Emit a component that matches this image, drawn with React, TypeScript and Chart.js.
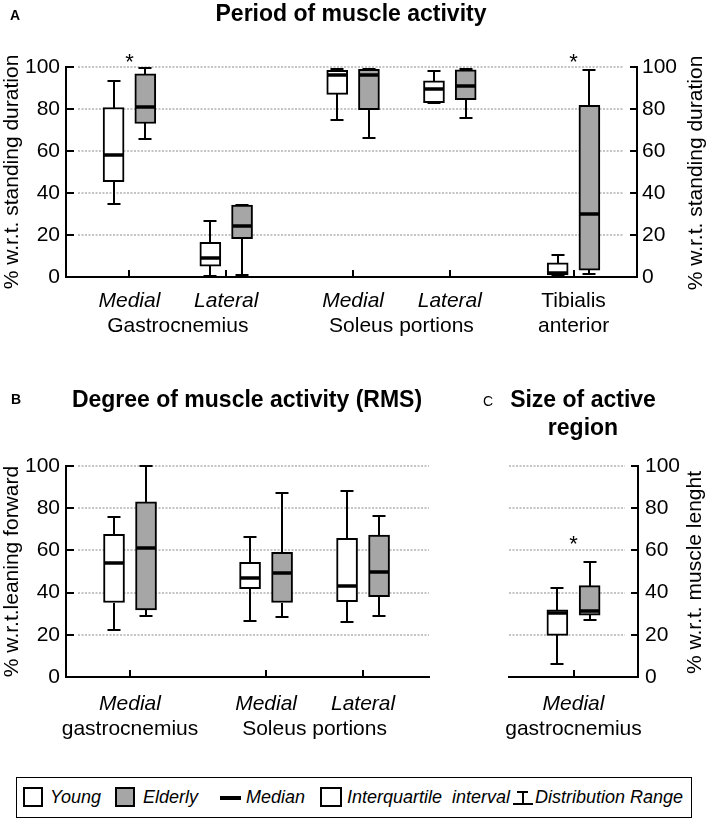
import React, { useEffect, useRef } from 'react';
import { Chart, registerables } from 'chart.js';

Chart.register(...registerables);

const FONT = '"Liberation Sans", Arial, Helvetica, sans-serif';
const GRAY = '#a6a6a6';

// ---------- DATA ----------
// Panel A: Period of muscle activity (% w.r.t. standing duration)
const labelsA = ['Medial', 'Lateral', 'Medial', 'Lateral', 'Tibialis'];
const italicA = [true, true, true, true, false];
const groupsA = ['Gastrocnemius', 'Soleus portions', 'anterior'];
const youngMinA = [34.7, 0.3, 74.7, 83.0, 0.3];
const youngQ1A = [45.4, 5.1, 87.0, 83.0, 1.0];
const youngMedA = [58.1, 9.0, 96.0, 89.7, 2.0];
const youngQ3A = [80.7, 16.5, 98.4, 93.4, 6.8];
const youngMaxA = [93.2, 26.9, 99.2, 98.1, 10.3];
const elderMinA = [65.8, 1.1, 66.3, 75.5, 1.6];
const elderQ1A = [73.1, 18.2, 79.7, 84.5, 3.3];
const elderMedA = [81.0, 24.1, 96.0, 90.8, 29.9];
const elderQ3A = [96.8, 34.2, 98.9, 98.7, 81.8];
const elderMaxA = [99.5, 34.2, 99.2, 98.9, 98.4];
const starsA = [0, 4];

// Panel B: Degree of muscle activity (RMS) (% w.r.t. leaning forward)
const labelsB = ['Medial', 'Medial', 'Lateral'];
const italicB = [true, true, true];
const groupsB = ['gastrocnemius', 'Soleus portions'];
const youngMinB = [22.4, 26.7, 26.3];
const youngQ1B = [35.3, 41.9, 35.7];
const youngMedB = [53.9, 46.8, 43.3];
const youngQ3B = [67.6, 54.3, 65.7];
const youngMaxB = [75.6, 66.2, 88.2];
const elderMinB = [29.0, 28.4, 29.1];
const elderQ1B = [31.8, 35.3, 38.1];
const elderMedB = [61.0, 49.4, 49.9];
const elderQ3B = [83.0, 59.1, 67.3];
const elderMaxB = [100, 87.4, 76.4];
const starsB: number[] = [];

// Panel C: Size of active region (% w.r.t. muscle lenght)
const labelsC = ['Medial'];
const italicC = [true];
const groupsC = ['gastrocnemius'];
const youngMinC = [6.1];
const youngQ1C = [19.7];
const youngMedC = [30.2];
const youngQ3C = [31.8];
const youngMaxC = [42.3];
const elderMinC = [27.1];
const elderQ1C = [29.3];
const elderMedC = [31.5];
const elderQ3C = [43.3];
const elderMaxC = [54.6];
const starsC = [0];

const Y_MIN = 0;
const Y_MAX = 100;
const Y_STEP = 20;

// ---------- LAYOUT ----------
type Series = { min: number[]; q1: number[]; med: number[]; q3: number[]; max: number[] };

interface Spec {
  canvas: { left: number; top: number; width: number; height: number };
  area: { left: number; right: number; top: number; bottom: number };
  xMax: number;
  catPos: number[];
  offset: number;
  young: Series;
  elder: Series;
  labels: string[];
  italic: boolean[];
  groups: string[];
  groupSpans: number[][];
  stars: number[];
  starValue: number;
  leftAxis: boolean;
  rightAxis: boolean;
  leftTitle: string;
  rightTitle: string;
  leftPad: number;
  rightPad: number;
  gridInsetL: number;
  gridInsetR: number;
  title: string[];
  titleX: number;
  titleBase: number[];
  letter: string;
  letterX: number;
  letterBase: number;
  letterBold: boolean;
  labelBase: number[];
  rightTitleX: number;
}

const specA: Spec = {
  canvas: { left: 0, top: 0, width: 708, height: 345 },
  area: { left: 66, right: 637, top: 67, bottom: 277 },
  xMax: 18,
  catPos: [2, 5.05, 9.05, 12.1, 16],
  offset: 0.5,
  young: { min: youngMinA, q1: youngQ1A, med: youngMedA, q3: youngQ3A, max: youngMaxA },
  elder: { min: elderMinA, q1: elderQ1A, med: elderMedA, q3: elderQ3A, max: elderMaxA },
  labels: labelsA,
  italic: italicA,
  groups: groupsA,
  groupSpans: [[0, 1], [2, 3], [4, 4]],
  stars: starsA,
  starValue: 105,
  leftAxis: true,
  rightAxis: true,
  leftTitle: '% w.r.t. standing duration',
  rightTitle: '% w.r.t. standing duration',
  leftPad: 6,
  rightPad: 5,
  gridInsetL: 12,
  gridInsetR: 13,
  title: ['Period of muscle activity'],
  titleX: 351,
  titleBase: [21],
  letter: 'A',
  letterX: 10,
  letterBase: 20,
  letterBold: true,
  labelBase: [307, 332],
  rightTitleX: 702,
};

const specB: Spec = {
  canvas: { left: 0, top: 345, width: 450, height: 425 },
  area: { left: 66, right: 429, top: 466, bottom: 677 },
  xMax: 11.34,
  catPos: [2, 6.25, 9.28],
  offset: 0.5,
  young: { min: youngMinB, q1: youngQ1B, med: youngMedB, q3: youngQ3B, max: youngMaxB },
  elder: { min: elderMinB, q1: elderQ1B, med: elderMedB, q3: elderQ3B, max: elderMaxB },
  labels: labelsB,
  italic: italicB,
  groups: groupsB,
  groupSpans: [[0, 0], [1, 2]],
  stars: starsB,
  starValue: 0,
  leftAxis: true,
  rightAxis: false,
  leftTitle: '% w.r.t.leaning forward',
  rightTitle: '',
  leftPad: 6,
  rightPad: 5,
  gridInsetL: 12,
  gridInsetR: 0,
  title: ['Degree of muscle activity (RMS)'],
  titleX: 247,
  titleBase: [407],
  letter: 'B',
  letterX: 11,
  letterBase: 404,
  letterBold: true,
  labelBase: [710, 735],
  rightTitleX: 0,
};

const specC: Spec = {
  canvas: { left: 450, top: 345, width: 258, height: 425 },
  area: { left: 509, right: 638, top: 466, bottom: 677 },
  xMax: 4,
  catPos: [2],
  offset: 0.5,
  young: { min: youngMinC, q1: youngQ1C, med: youngMedC, q3: youngQ3C, max: youngMaxC },
  elder: { min: elderMinC, q1: elderQ1C, med: elderMedC, q3: elderQ3C, max: elderMaxC },
  labels: labelsC,
  italic: italicC,
  groups: groupsC,
  groupSpans: [[0, 0]],
  stars: starsC,
  starValue: 65.4,
  leftAxis: false,
  rightAxis: true,
  leftTitle: '',
  rightTitle: '% w.r.t. muscle lenght',
  leftPad: 6,
  rightPad: 7,
  gridInsetL: 0,
  gridInsetR: 13,
  title: ['Size of active', 'region'],
  titleX: 583,
  titleBase: [407, 435],
  letter: 'C',
  letterX: 483,
  letterBase: 406,
  letterBold: false,
  labelBase: [710, 735],
  rightTitleX: 701,
};

function decorPlugin(s: Spec) {
  const c = s.canvas;
  const cx = (px: number) => px - c.left;
  const cy = (py: number) => py - c.top;
  return {
    id: 'decor',
    beforeDatasetsDraw(chart: any) {
      const { ctx, chartArea } = chart;
      const y = chart.scales.y;
      ctx.save();
      ctx.strokeStyle = '#c4c4c4';
      ctx.lineWidth = 2;
      ctx.setLineDash([2, 1.5]);
      for (let v = Y_MIN + Y_STEP; v <= Y_MAX; v += Y_STEP) {
        const py = Math.round(y.getPixelForValue(v));
        ctx.beginPath();
        ctx.moveTo(chartArea.left + s.gridInsetL, py);
        ctx.lineTo(chartArea.right - s.gridInsetR, py);
        ctx.stroke();
      }
      ctx.restore();
    },
    afterDatasetsDraw(chart: any) {
      const { ctx } = chart;
      const x = chart.scales.x;
      const y = chart.scales.y;
      ctx.save();
      ctx.strokeStyle = '#000';
      ctx.setLineDash([]);
      const draw = (ser: Series, sign: number) => {
        s.catPos.forEach((p, i) => {
          const px = Math.round(x.getPixelForValue(p + sign * s.offset));
          const pMin = Math.round(y.getPixelForValue(ser.min[i]));
          const pQ1 = Math.round(y.getPixelForValue(ser.q1[i]));
          const pMed = Math.round(y.getPixelForValue(ser.med[i]));
          const pQ3 = Math.round(y.getPixelForValue(ser.q3[i]));
          const pMax = Math.round(y.getPixelForValue(ser.max[i]));
          ctx.lineWidth = 2;
          ctx.beginPath();
          if (pMax < pQ3) {
            ctx.moveTo(px, pQ3);
            ctx.lineTo(px, pMax);
          }
          ctx.moveTo(px - 6.5, pMax);
          ctx.lineTo(px + 6.5, pMax);
          if (pMin > pQ1) {
            ctx.moveTo(px, pQ1);
            ctx.lineTo(px, pMin);
          }
          ctx.moveTo(px - 6.5, pMin);
          ctx.lineTo(px + 6.5, pMin);
          ctx.stroke();
          ctx.lineWidth = 3.5;
          ctx.beginPath();
          ctx.moveTo(px - 10, pMed);
          ctx.lineTo(px + 10, pMed);
          ctx.stroke();
        });
      };
      draw(s.young, -1);
      draw(s.elder, 1);
      ctx.restore();
    },
    afterDraw(chart: any) {
      const { ctx, chartArea } = chart;
      const x = chart.scales.x;
      const y = chart.scales.y;
      ctx.save();
      ctx.strokeStyle = '#000';
      ctx.fillStyle = '#000';
      ctx.lineWidth = 2;
      ctx.setLineDash([]);
      // inward y ticks
      for (let v = Y_MIN; v <= Y_MAX; v += Y_STEP) {
        const py = Math.round(y.getPixelForValue(v));
        ctx.beginPath();
        if (s.leftAxis) {
          ctx.moveTo(chartArea.left, py);
          ctx.lineTo(chartArea.left + 8, py);
        }
        if (s.rightAxis) {
          ctx.moveTo(chartArea.right - 7, py);
          ctx.lineTo(chartArea.right, py);
        }
        ctx.stroke();
      }
      // inward x ticks
      s.catPos.forEach((p) => {
        const px = Math.round(x.getPixelForValue(p));
        ctx.beginPath();
        ctx.moveTo(px, chartArea.bottom);
        ctx.lineTo(px, chartArea.bottom - 7);
        ctx.stroke();
      });
      // category labels
      ctx.textAlign = 'center';
      ctx.textBaseline = 'alphabetic';
      s.labels.forEach((t, i) => {
        ctx.font = `${s.italic[i] ? 'italic ' : ''}21px ${FONT}`;
        ctx.fillText(t, x.getPixelForValue(s.catPos[i]), cy(s.labelBase[0]));
      });
      ctx.font = `21px ${FONT}`;
      s.groups.forEach((t, g) => {
        const [a, b] = s.groupSpans[g];
        const mid = (x.getPixelForValue(s.catPos[a]) + x.getPixelForValue(s.catPos[b])) / 2;
        ctx.fillText(t, mid, cy(s.labelBase[1]));
      });
      // significance stars
      ctx.font = `22px ${FONT}`;
      s.stars.forEach((i) => {
        ctx.fillText('*', x.getPixelForValue(s.catPos[i]), y.getPixelForValue(s.starValue) + 12);
      });
      // panel title
      ctx.font = `bold 23px ${FONT}`;
      s.title.forEach((t, k) => {
        ctx.fillText(t, cx(s.titleX), cy(s.titleBase[k]));
      });
      // panel letter
      ctx.textAlign = 'left';
      ctx.font = `${s.letterBold ? 'bold ' : ''}14px ${FONT}`;
      ctx.fillText(s.letter, cx(s.letterX), cy(s.letterBase));
      // right-side axis title (reads bottom to top)
      if (s.rightTitle) {
        ctx.font = `21px ${FONT}`;
        ctx.textAlign = 'center';
        ctx.translate(cx(s.rightTitleX), (chartArea.top + chartArea.bottom) / 2 + 1);
        ctx.rotate(-Math.PI / 2);
        ctx.fillText(s.rightTitle, 0, 0);
      }
      ctx.restore();
    },
  };
}

function buildConfig(s: Spec): any {
  const c = s.canvas;
  const leftW = s.area.left - c.left;
  const rightW = c.left + c.width - s.area.right;
  const xH = c.top + c.height - s.area.bottom;
  const mkSet = (ser: Series, fill: string, sign: number) => ({
    type: 'bar',
    data: s.catPos.map((p, i) => ({ x: p + sign * s.offset, y: [ser.q1[i], ser.q3[i]] })),
    backgroundColor: fill,
    borderColor: '#000',
    borderWidth: 2,
    borderSkipped: false,
    barThickness: 21,
    grouped: false,
    xAxisID: 'x',
    yAxisID: 'y',
  });
  const yScale = (pos: string, show: boolean, w: number, pad: number, title: string) => ({
    type: 'linear',
    position: pos,
    min: Y_MIN,
    max: Y_MAX,
    display: show,
    ticks: { stepSize: Y_STEP, color: '#000', font: { family: FONT, size: 21 }, padding: pad },
    grid: { display: false, drawTicks: false },
    border: { display: true, color: '#000', width: 2 },
    title: {
      display: !!title,
      text: title,
      color: '#000',
      font: { family: FONT, size: 21 },
      padding: 0,
    },
    afterFit: (sc: any) => {
      sc.width = show ? w : 0;
    },
  });
  return {
    type: 'bar',
    data: { datasets: [mkSet(s.young, '#ffffff', -1), mkSet(s.elder, GRAY, 1)] },
    options: {
      responsive: false,
      animation: false,
      devicePixelRatio: 1,
      events: [],
      layout: {
        padding: {
          top: s.area.top - c.top,
          bottom: 0,
          left: s.leftAxis ? 0 : leftW,
          right: s.rightAxis ? 0 : rightW,
        },
      },
      plugins: { legend: { display: false }, tooltip: { enabled: false }, title: { display: false } },
      scales: {
        x: {
          type: 'linear',
          min: 0,
          max: s.xMax,
          offset: false,
          ticks: { display: false },
          grid: { display: false, drawTicks: false },
          border: { display: true, color: '#000', width: 2 },
          afterFit: (sc: any) => {
            sc.height = xH;
          },
        },
        y: yScale('left', s.leftAxis, leftW, s.leftPad, s.leftTitle),
        y2: yScale('right', s.rightAxis, rightW, s.rightPad, ''),
      },
    },
    plugins: [decorPlugin(s)],
  };
}

function Panel({ spec }: { spec: Spec }) {
  const ref = useRef<HTMLCanvasElement>(null);
  useEffect(() => {
    const chart = new Chart(ref.current as HTMLCanvasElement, buildConfig(spec));
    return () => chart.destroy();
  }, [spec]);
  const c = spec.canvas;
  return (
    <canvas
      ref={ref}
      width={c.width}
      height={c.height}
      style={{ position: 'absolute', left: c.left, top: c.top, width: c.width, height: c.height }}
    />
  );
}

const legendText: React.CSSProperties = {
  position: 'absolute',
  top: 0,
  height: 38,
  lineHeight: '38px',
  fontStyle: 'italic',
  fontSize: 18,
  whiteSpace: 'pre',
  color: '#000',
};

function Legend() {
  const sq = (left: number, bg: string, w = 20): React.CSSProperties => ({
    position: 'absolute',
    left,
    top: 9,
    width: w,
    height: 20,
    border: '2px solid #000',
    background: bg,
    boxSizing: 'border-box',
  });
  const bar = (left: number, top: number, w: number, h: number): React.CSSProperties => ({
    position: 'absolute',
    left,
    top,
    width: w,
    height: h,
    background: '#000',
  });
  return (
    <div
      style={{
        position: 'absolute',
        left: 16,
        top: 777,
        width: 676,
        height: 41,
        border: '1.5px solid #000',
        boxSizing: 'border-box',
        fontFamily: FONT,
      }}
    >
      <div style={sq(6, '#ffffff')} />
      <div style={{ ...legendText, left: 33 }}>Young</div>
      <div style={sq(98, GRAY)} />
      <div style={{ ...legendText, left: 126 }}>Elderly</div>
      <div style={bar(203, 18, 21, 4)} />
      <div style={{ ...legendText, left: 229 }}>Median</div>
      <div style={sq(303, '#ffffff', 22)} />
      <div style={{ ...legendText, left: 330, wordSpacing: 5 }}>Interquartile interval</div>
      <div style={bar(500, 13, 11, 2)} />
      <div style={bar(504.5, 13, 2, 13)} />
      <div style={bar(496, 25, 20, 2)} />
      <div style={{ ...legendText, left: 518 }}>Distribution Range</div>
    </div>
  );
}

export default function App() {
  return (
    <div
      style={{
        position: 'absolute',
        left: 0,
        top: 0,
        width: 708,
        height: 823,
        background: '#ffffff',
        overflow: 'hidden',
        fontFamily: FONT,
      }}
    >
      <Panel spec={specA} />
      <Panel spec={specB} />
      <Panel spec={specC} />
      <Legend />
    </div>
  );
}
